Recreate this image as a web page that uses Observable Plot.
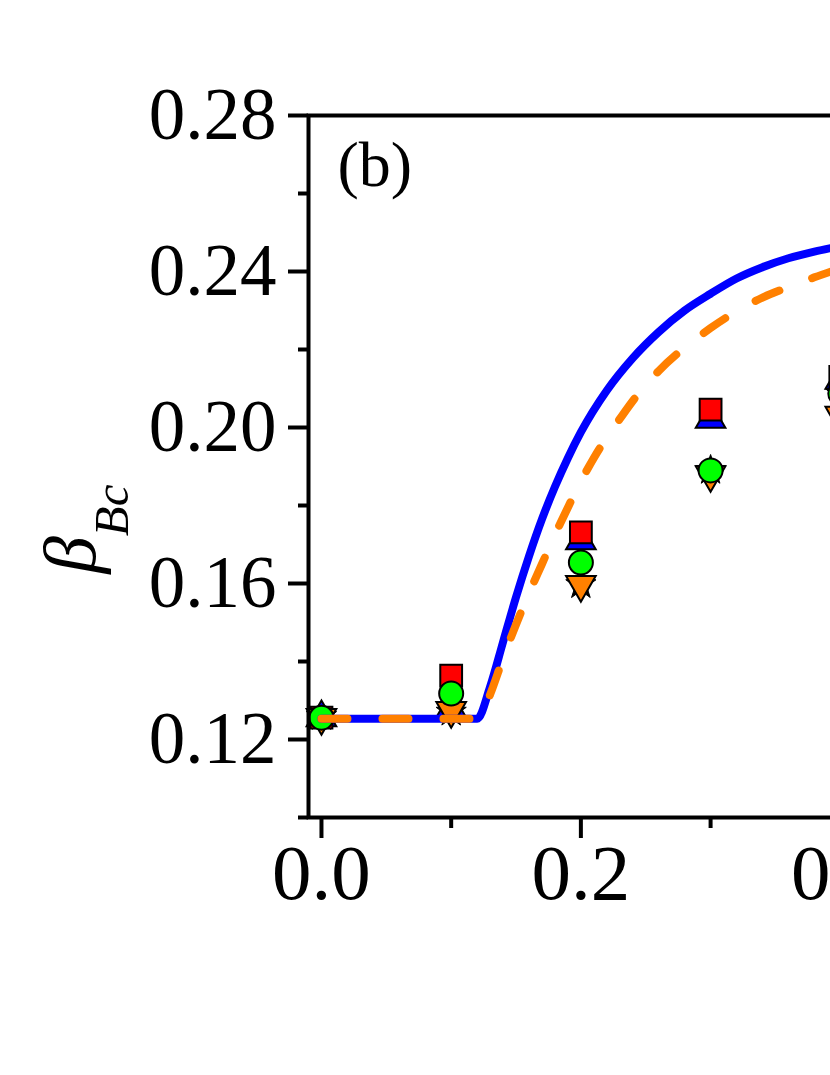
<!DOCTYPE html>
<html><head><meta charset="utf-8">
<script src="https://cdn.jsdelivr.net/npm/d3@7"></script>
<script src="https://cdn.jsdelivr.net/npm/@observablehq/plot@0.6"></script>
<style>
html,body{margin:0;padding:0;background:#fff;overflow:hidden;width:830px;height:1075px}
#chart{width:830px;height:1075px;overflow:hidden}
#chart svg{max-width:none !important;width:1000px !important;height:1075px !important;font-family:'Liberation Serif','Times New Roman',serif !important}
</style>
</head><body><div id="chart"></div>
<script>
// ---- data ----
const markerX = [0, 0.1, 0.2, 0.3, 0.4];
const redSquare = [0.1256, 0.1364, 0.1731, 0.2046, 0.2130];
const blueTriUp = [0.1256, 0.1279, 0.1710, 0.2021, 0.2121];
const greenCircle = [0.1256, 0.1318, 0.1654, 0.1890, 0.2087];
const orangeTriDown = [0.1256, 0.1274, 0.1597, 0.1879, 0.2031];
const blackStar = [0.1259, 0.1270, 0.1597, 0.1890, 0.2087];

const blueX = [0, 0.12, 0.13, 0.14, 0.15, 0.16, 0.17, 0.18, 0.19, 0.20, 0.22, 0.24, 0.26, 0.28, 0.30, 0.32, 0.34, 0.36, 0.38, 0.40];
const blueY = [0.1253, 0.1253, 0.1335, 0.1450, 0.1565, 0.1670, 0.1765, 0.1848, 0.1922, 0.1988, 0.2095, 0.2178, 0.2245, 0.2300, 0.2343, 0.2382, 0.2411, 0.2434, 0.2451, 0.2465];
const orangeX = [0, 0.12, 0.125, 0.13, 0.14, 0.15, 0.16, 0.17, 0.18, 0.19, 0.20, 0.21, 0.22, 0.23, 0.24, 0.26, 0.28, 0.30, 0.32, 0.34, 0.36, 0.38, 0.40];
const orangeY = [0.1253, 0.1253, 0.1275, 0.1315, 0.1408, 0.1495, 0.1575, 0.1650, 0.1725, 0.1795, 0.1862, 0.1922, 0.1975, 0.2022, 0.2068, 0.2145, 0.2205, 0.2255, 0.2298, 0.2333, 0.2360, 0.2385, 0.2408];

const yMajorTicks = [0.12, 0.16, 0.20, 0.24, 0.28];
const yMinorTicks = [0.10, 0.14, 0.18, 0.22, 0.26];
const xMajorTicks = [0.0, 0.2, 0.4];
const xMinorTicks = [0.1, 0.3, 0.5];
const panelLabel = "(b)";
const yLabelMain = "β";
const yLabelSub = "Bc";

// ---- build ----
const pts = ys => markerX.map((x, i) => ({x, y: ys[i]}));
const curve = (xs, ys) => xs.map((x, i) => ({x, y: ys[i]}));
const font = "'Liberation Serif', 'Times New Roman', serif";

const plot = Plot.plot({
  width: 1000, height: 1075,
  marginLeft: 308, marginRight: 30.5, marginTop: 115, marginBottom: 258,
  x: {domain: [-0.01, 0.5], label: null},
  y: {domain: [0.10, 0.28], label: null},
  style: {fontFamily: font, background: "white", color: "black", maxWidth: "none"},
  marks: [
    Plot.axisY(yMinorTicks, {tickSize: 10, tickFormat: () => "", strokeWidth: 4, label: null}),
    Plot.axisY(yMajorTicks, {tickSize: 20, tickPadding: 12, tickFormat: d => d.toFixed(2), fontSize: 73, strokeWidth: 4, label: null}),
    Plot.axisX(xMinorTicks, {tickSize: 11, tickFormat: () => "", strokeWidth: 4, label: null}),
    Plot.axisX(xMajorTicks, {tickSize: 21, tickPadding: 4, tickFormat: d => d.toFixed(1), fontSize: 79, strokeWidth: 4, label: null}),
    Plot.dot(pts(blackStar), {x: "x", y: "y", symbol: "star", r: 9.5, fill: "black", stroke: "black", strokeWidth: 1}),
    Plot.dot(pts(blueTriUp), {x: "x", y: "y", symbol: "triangle", r: 11, fill: "#0000FF", stroke: "black", strokeWidth: 2}),
    Plot.dot(pts(redSquare), {x: "x", y: "y", symbol: "square", r: 12.3, fill: "#FF0000", stroke: "black", strokeWidth: 2}),
    Plot.dot(pts(orangeTriDown), {x: "x", y: "y", symbol: "triangle", r: 11, rotate: 180, fill: "#FF8000", stroke: "black", strokeWidth: 2}),
    Plot.dot(pts(greenCircle), {x: "x", y: "y", symbol: "circle", r: 12, fill: "#00FF00", stroke: "black", strokeWidth: 2}),
    Plot.line(curve(blueX, blueY), {x: "x", y: "y", stroke: "#0000FF", strokeWidth: 8, curve: "monotone-x"}),
    Plot.line(curve(orangeX, orangeY), {x: "x", y: "y", stroke: "#FF8000", strokeWidth: 8, strokeDasharray: "26,35", strokeLinecap: "round", curve: "monotone-x"}),
    Plot.frame({strokeWidth: 4}),
    Plot.text([panelLabel], {text: d => d, frameAnchor: "top-left", dx: 29, dy: 25, fontSize: 64, textAnchor: "start", lineAnchor: "top"})
  ]
});

const svg = d3.select(plot);
const t = svg.append("text")
  .attr("transform", "translate(95,529) rotate(-90)")
  .attr("text-anchor", "middle")
  .attr("font-family", font)
  .attr("font-style", "italic")
  .attr("fill", "black");
t.append("tspan").attr("font-size", 75).text(yLabelMain);
t.append("tspan").attr("font-size", 49).attr("dy", 33).text(yLabelSub);

document.getElementById("chart").appendChild(plot);
</script>
</body></html>
